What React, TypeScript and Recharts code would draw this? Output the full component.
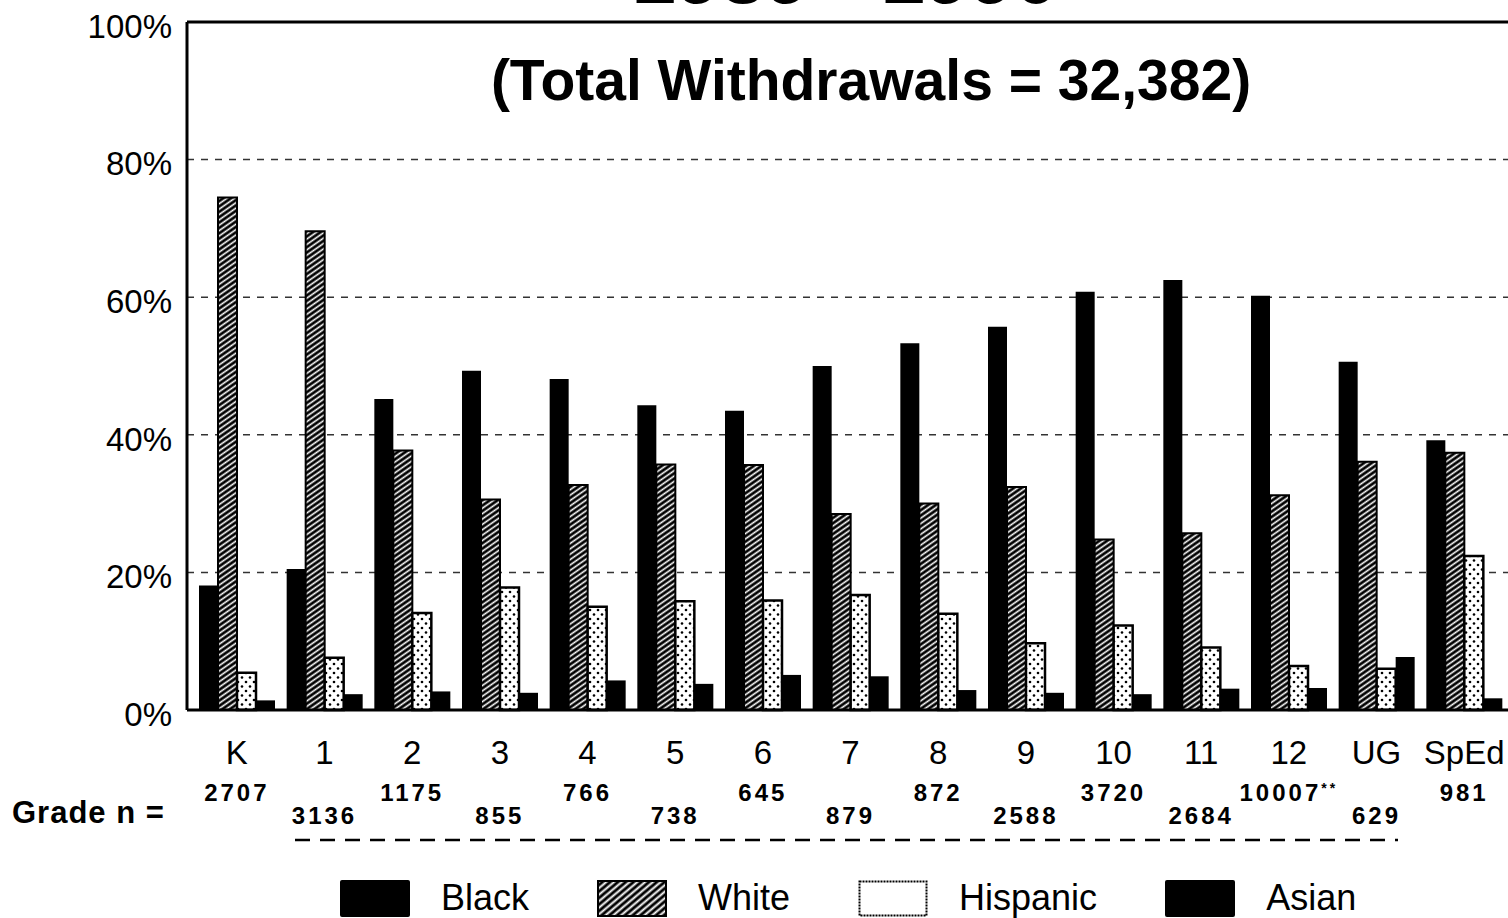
import { BarChart, Bar, XAxis, YAxis, CartesianGrid, ReferenceLine } from "recharts";

const grades = ["K", "1", "2", "3", "4", "5", "6", "7", "8", "9", "10", "11", "12", "UG", "SpEd"];
const gradeN = ["2707", "3136", "1175", "855", "766", "738", "645", "879", "872", "2588", "3720", "2684", "10007", "629", "981"];
const black = [18.1, 20.5, 45.2, 49.3, 48.1, 44.3, 43.5, 50.0, 53.3, 55.7, 60.8, 62.5, 60.2, 50.6, 39.2];
const white = [74.5, 69.6, 37.7, 30.6, 32.7, 35.7, 35.6, 28.5, 30.0, 32.4, 24.8, 25.7, 31.2, 36.1, 37.4];
const hispanic = [5.4, 7.6, 14.1, 17.8, 15.0, 15.8, 15.9, 16.7, 14.0, 9.7, 12.3, 9.1, 6.4, 6.0, 22.4];
const asian = [1.4, 2.3, 2.7, 2.5, 4.3, 3.8, 5.1, 4.9, 2.9, 2.5, 2.3, 3.1, 3.2, 7.7, 1.7];
const yTicks = [0, 20, 40, 60, 80, 100];

const data = grades.map((g, i) => ({
  grade: g,
  n: gradeN[i],
  black: black[i],
  white: white[i],
  hispanic: hispanic[i],
  asian: asian[i],
}));

const FONT = '"Liberation Sans", Arial, Helvetica, sans-serif';

function GradeTick(props: any) {
  const { x, y, payload, index } = props;
  const d = data[index];
  const upper = index % 2 === 0;
  return (
    <g>
      <text x={x} y={y + 54} textAnchor="middle" fontSize={33} fontFamily={FONT} fill="#000">
        {payload.value}
      </text>
      <text
        x={x}
        y={y + (upper ? 91 : 114)}
        textAnchor="middle"
        fontSize={24}
        fontWeight="bold"
        letterSpacing={3}
        fontFamily={FONT}
        fill="#000"
      >
        {d.n}
        {d.grade === "12" ? (
          <tspan fontSize={14} dy={-8}>
            **
          </tspan>
        ) : null}
      </text>
    </g>
  );
}

function Swatch({ kind }: { kind: string }) {
  return (
    <svg width={70} height={37} style={{ display: "block" }}>
      <defs>
        <pattern id={"lg-" + kind} width={8} height={5} patternUnits="userSpaceOnUse" patternTransform="rotate(-40)">
          <rect width={8} height={5} fill="#000" />
          <rect y={1.5} width={8} height={2} fill="#fff" />
        </pattern>
      </defs>
      {kind === "white" ? (
        <rect x={1} y={1} width={68} height={35} fill={"url(#lg-" + kind + ")"} stroke="#000" strokeWidth={2} />
      ) : kind === "hispanic" ? (
        <rect x={1.5} y={1.5} width={67} height={34} fill="#fff" stroke="#000" strokeWidth={2} strokeDasharray="2 1" />
      ) : (
        <rect x={0} y={0} width={70} height={37} rx={2} fill="#000" />
      )}
    </svg>
  );
}

const legendItems = [
  { key: "black", label: "Black" },
  { key: "white", label: "White" },
  { key: "hispanic", label: "Hispanic" },
  { key: "asian", label: "Asian" },
];

export default function App() {
  return (
    <div
      style={{
        position: "absolute",
        left: 0,
        top: 0,
        width: 1508,
        height: 918,
        overflow: "hidden",
        background: "#fff",
        fontFamily: FONT,
      }}
    >
      <BarChart
        width={1508}
        height={918}
        data={data}
        margin={{ top: 22, right: 0, left: 0, bottom: 0 }}
        barGap={0}
        barCategoryGap={6}
      >
        <defs>
          <pattern id="hatch" width={8} height={4.4} patternUnits="userSpaceOnUse" patternTransform="rotate(-35)">
            <rect width={8} height={4.4} fill="#000" />
            <rect y={1.4} width={8} height={1.6} fill="#fff" />
          </pattern>
          <pattern id="dots" width={8} height={9} patternUnits="userSpaceOnUse">
            <rect width={8} height={9} fill="#fff" />
            <circle cx={2} cy={2.5} r={1.3} fill="#000" />
            <circle cx={6} cy={7} r={1.3} fill="#000" />
          </pattern>
        </defs>
        <CartesianGrid vertical={false} stroke="#333" strokeWidth={1.5} strokeDasharray="7 7" />
        <XAxis
          dataKey="grade"
          height={208}
          tickLine={false}
          tickSize={0}
          tickMargin={0}
          axisLine={{ stroke: "#000", strokeWidth: 3 }}
          padding={{ left: 6, right: 0 }}
          interval={0}
          tick={<GradeTick />}
        />
        <YAxis
          width={187}
          domain={[0, 100]}
          ticks={yTicks}
          tickFormatter={(v: number) => v + "%"}
          tickLine={false}
          tickSize={0}
          tickMargin={15}
          axisLine={{ stroke: "#000", strokeWidth: 3 }}
          tick={{ fontSize: 33, fontFamily: FONT, fill: "#000", dy: 4 }}
        />
        <ReferenceLine y={100} stroke="#000" strokeWidth={3} />
        <Bar dataKey="black" fill="#000" isAnimationActive={false} />
        <Bar dataKey="white" fill="url(#hatch)" stroke="#000" strokeWidth={2} isAnimationActive={false} />
        <Bar dataKey="hispanic" fill="url(#dots)" stroke="#000" strokeWidth={2.5} isAnimationActive={false} />
        <Bar dataKey="asian" fill="#000" isAnimationActive={false} />
      </BarChart>

      <div
        style={{
          position: "absolute",
          left: 0,
          width: 1690,
          top: -64,
          textAlign: "center",
          fontSize: 80,
          fontWeight: "bold",
          lineHeight: "80px",
        }}
      >
        1989 - 1990
      </div>
      <div
        style={{
          position: "absolute",
          left: 0,
          width: 1742,
          top: 48,
          textAlign: "center",
          fontSize: 57,
          fontWeight: "bold",
          lineHeight: "64px",
        }}
      >
        (Total Withdrawals = 32,382)
      </div>

      <div
        style={{
          position: "absolute",
          left: 12,
          top: 795,
          fontSize: 31,
          fontWeight: "bold",
          lineHeight: "36px",
          letterSpacing: 1,
        }}
      >
        Grade n =
      </div>
      <svg style={{ position: "absolute", left: 0, top: 830 }} width={1508} height={20}>
        <line x1={295} y1={10} x2={1398} y2={10} stroke="#000" strokeWidth={2.5} strokeDasharray="15 10" />
      </svg>

      <div
        style={{
          position: "absolute",
          left: 340,
          top: 878,
          display: "flex",
          alignItems: "center",
        }}
      >
        {legendItems.map((it) => (
          <div key={it.key} style={{ display: "flex", alignItems: "center", marginRight: 68 }}>
            <Swatch kind={it.key} />
            <span style={{ marginLeft: 31, fontSize: 36, lineHeight: "40px" }}>{it.label}</span>
          </div>
        ))}
      </div>
    </div>
  );
}
